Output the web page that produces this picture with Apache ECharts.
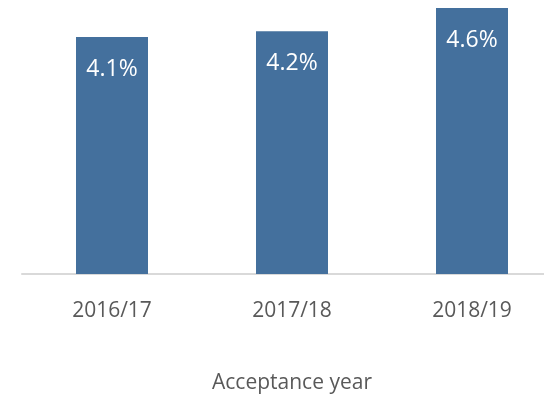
<!DOCTYPE html>
<html>
<head>
<meta charset="utf-8">
<script src="https://cdn.jsdelivr.net/npm/echarts@6/dist/echarts.min.js"></script>
<style>
  html, body { margin: 0; padding: 0; background: #fff; overflow: hidden; }
  #chart { width: 562px; height: 400px; }
</style>
</head>
<body>
<div id="chart"></div>
<script>
// acceptance rate by year
var years = ['2016/17', '2017/18', '2018/19'];
var rates = [4.1, 4.2, 4.6];

// plot area runs past the right edge of the window, as in the source
var myChart = echarts.init(document.getElementById('chart'));
var option = {
    animation: false,
    textStyle: { fontFamily: 'Open Sans' },
    grid: { left: 22, right: 0, top: 0, bottom: 126 },
    xAxis: {
        type: 'category',
        data: years,
        axisLine: { lineStyle: { color: '#d9d9d9', width: 2 } },
        axisTick: { show: false },
        axisLabel: { color: '#595959', fontSize: 21, margin: 27 },
        name: 'Acceptance year',
        nameLocation: 'middle',
        nameGap: 99,
        nameTextStyle: { color: '#595959', fontSize: 21 }
    },
    yAxis: {
        type: 'value',
        min: 0,
        max: 4.74,
        show: false,
        splitLine: { show: false }
    },
    series: [{
        type: 'bar',
        data: rates,
        barWidth: 72,
        itemStyle: { color: '#44709d' },
        label: {
            show: true,
            position: 'insideTop',
            distance: 21,
            color: '#fff',
            fontSize: 23,
            formatter: function (p) { return p.value.toFixed(1) + '%'; }
        }
    }]
};
myChart.setOption(option, true);
</script>
</body>
</html>
